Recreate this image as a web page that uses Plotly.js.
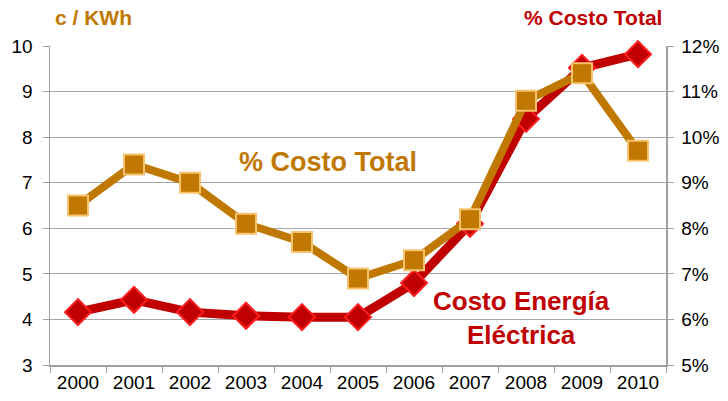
<!DOCTYPE html>
<html><head><meta charset="utf-8">
<script src="https://cdn.plot.ly/plotly-3.0.1.min.js"></script>
<style>html,body{margin:0;padding:0;background:#fff}#chart{width:728px;height:401px}</style>
</head><body><div id="chart"></div>
<script>
const years = ['2000','2001','2002','2003','2004','2005','2006','2007','2008','2009','2010'];
const costoEnergia = [4.16, 4.43, 4.16, 4.08, 4.05, 4.05, 4.8, 6.1, 8.4, 9.52, 9.82];
const pctCostoTotal = [8.5, 9.4, 9.0, 8.1, 7.7, 6.9, 7.3, 8.2, 10.8, 11.4, 9.7];
const leftTicks = [3,4,5,6,7,8,9,10];
const rightTicks = [5,6,7,8,9,10,11,12];
const rightTickText = ['5%','6%','7%','8%','9%','10%','11%','12%'];

const red = '#C00000', orange = '#C07800';
const font = 'Liberation Sans, Arial, sans-serif';

const traces = [
  {x: years, y: costoEnergia, type:'scatter', mode:'lines+markers', yaxis:'y',
   line:{color:red, width:9},
   marker:{symbol:'diamond', size:20, color:red, line:{color:'#FF1F1F', width:2}},
   cliponaxis:false, hoverinfo:'skip'},
  {x: years, y: pctCostoTotal, type:'scatter', mode:'lines+markers', yaxis:'y2',
   line:{color:orange, width:8},
   marker:{symbol:'square', size:20, color:orange, line:{color:'#F8C36E', width:2}},
   cliponaxis:false, hoverinfo:'skip'}
];

const layout = {
  width:728, height:401,
  margin:{l:50, r:62, t:46, b:36},
  paper_bgcolor:'#fff', plot_bgcolor:'#fff',
  showlegend:false,
  font:{family:font, color:'#000'},
  xaxis:{type:'category', range:[-0.5,10.5], tickson:'boundaries', ticks:'outside', ticklen:6,
    tickcolor:'#A0A0A0', showline:true, linecolor:'#A0A0A0', linewidth:1.5, showgrid:false,
    tickfont:{size:19, family:font, color:'#000'}, zeroline:false},
  yaxis:{range:[3,10], tickmode:'array', tickvals:leftTicks, ticks:'outside', ticklen:6, tickcolor:'#A0A0A0',
    showline:true, linecolor:'#A0A0A0', linewidth:1.5, showgrid:true, gridcolor:'#A6A6A6', gridwidth:1.2,
    zeroline:false, ticklabelstandoff:6, tickfont:{size:19, family:font, color:'#000'}},
  yaxis2:{range:[5,12], tickmode:'array', tickvals:rightTicks, ticktext:rightTickText, overlaying:'y', side:'right',
    ticks:'outside', ticklen:6, tickcolor:'#A0A0A0', showline:true, linecolor:'#A0A0A0', linewidth:1.5,
    showgrid:false, zeroline:false, ticklabelstandoff:4, tickfont:{size:19, family:font, color:'#000'}},
  annotations:[
    {text:'<b>c / KWh</b>', xref:'paper', yref:'paper', x:0.005, y:1.0, yshift:29, xanchor:'left', yanchor:'middle',
     showarrow:false, font:{size:21, color:orange, family:font}},
    {text:'<b>% Costo Total</b>', xref:'paper', yref:'paper', x:0.996, y:1.0, yshift:29, xanchor:'right', yanchor:'middle',
     showarrow:false, font:{size:21, color:red, family:font}},
    {text:'<b>% Costo Total</b>', xref:'paper', yref:'paper', x:(328-50)/616, y:(365-162)/319, xanchor:'center', yanchor:'middle',
     showarrow:false, font:{size:27, color:orange, family:font}},
    {text:'<b>Costo Energía<br>Eléctrica</b>', xref:'paper', yref:'paper', x:(521-50)/616, y:(365-318)/319, xanchor:'center', yanchor:'middle',
     showarrow:false, font:{size:26, color:red, family:font}}
  ]
};
Plotly.newPlot('chart', traces, layout, {staticPlot:true, displayModeBar:false});
</script></body></html>
